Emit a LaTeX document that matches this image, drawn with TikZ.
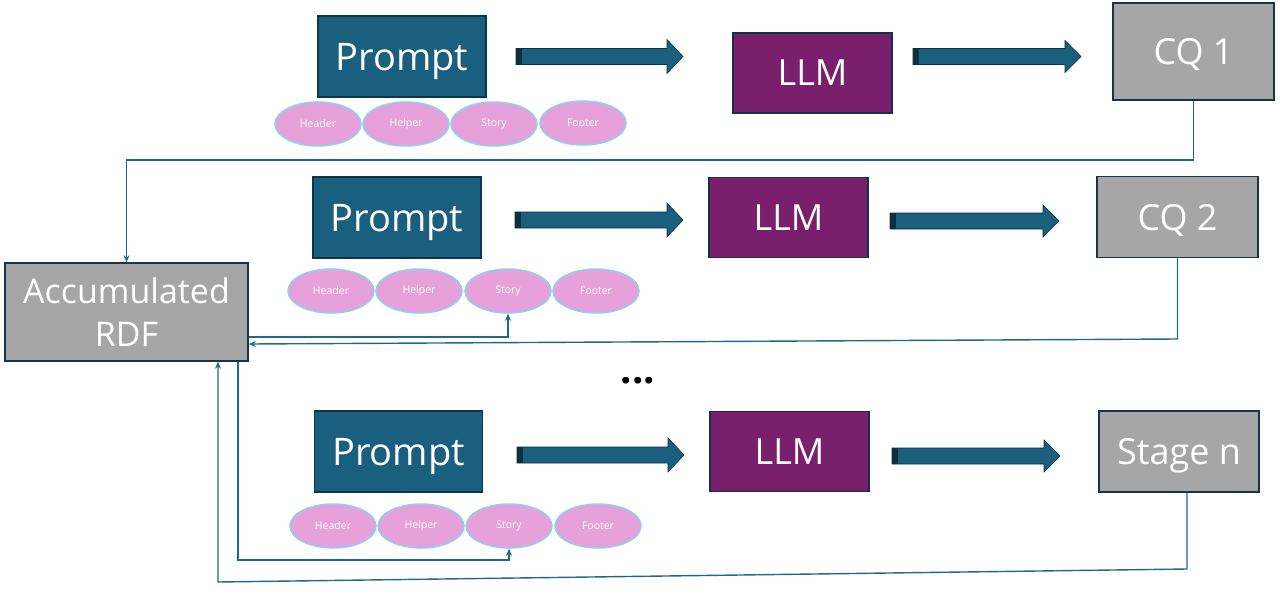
\documentclass[tikz,border=0pt]{standalone}
\usepackage{fontspec}
\setmainfont{Open Sans}
\usetikzlibrary{arrows.meta,shapes.geometric}
\definecolor{pblue}{HTML}{1A5F7E}
\definecolor{pborder}{HTML}{0F3447}
\definecolor{llmpurple}{HTML}{7A1F6B}
\definecolor{cqgray}{HTML}{A6A6A6}
\definecolor{cqborder}{HTML}{1E3342}
\definecolor{pinkfill}{HTML}{E6A0DA}
\definecolor{pinkborder}{HTML}{8ED0EE}
\definecolor{conncol}{HTML}{1F6A8C}
\definecolor{capdark}{HTML}{0E2F40}
\tikzset{
  bigbox/.style={line width=1.5pt, inner sep=0pt, text=white, text depth=0pt},
  promptbox/.style={bigbox, draw=pborder, fill=pblue, minimum width=168pt, minimum height=81pt, font=\fontsize{38}{40}\selectfont},
  llmbox/.style={bigbox, draw=pborder, fill=llmpurple, minimum width=159pt, minimum height=80pt, font=\fontsize{36}{40}\selectfont},
  cqbox/.style={bigbox, draw=cqborder, fill=cqgray, minimum width=161pt, minimum height=81pt, font=\fontsize{36}{40}\selectfont},
  accbox/.style={draw=cqborder, fill=cqgray, line width=1.5pt, inner sep=0pt, text=white, minimum width=243pt, minimum height=98pt, align=center, font=\fontsize{34}{43}\selectfont},
  part/.style={ellipse, draw=pinkborder, fill=pinkfill, line width=1.5pt, minimum width=86pt, minimum height=44pt, inner sep=0pt, text=white, font=\fontsize{10.5}{12}\selectfont},
  conn/.style={draw=conncol, line width=1.4pt},
  connarr/.style={conn, -{Stealth[length=7pt,width=6pt]}},
  blockfill/.style={fill=pblue, draw=capdark, line width=0.6pt},
}
\newcommand{\blockarrow}[5]{%
  % #1 start x, #2 head base x, #3 tip x, #4 center y, #5 head half
  \fill[blockfill] (#1,#4-8) -- (#2,#4-8) -- (#2,#4-#5) -- (#3,#4) -- (#2,#4+#5) -- (#2,#4+8) -- (#1,#4+8) -- cycle;
  \fill[capdark] (#1,#4-8) rectangle (#1+6,#4+8);
}
\begin{document}
\begin{tikzpicture}[x=1pt,y=-1pt]
\useasboundingbox[fill=white] (0,0) rectangle (1280,595);

% Row 1
\node[promptbox] (p1) at (402,56.5) {Prompt};
\node[llmbox] (l1) at (812.5,73) {LLM};
\node[cqbox, minimum height=97pt] (cq1) at (1193.5,51.5) {CQ 1};
\node[part] (h1) at (318,124) {Header};
\node[part] (he1) at (406,124) {Helper};
\node[part] (s1) at (494,124) {Story};
\node[part] (f1) at (583,123) {Footer};
\blockarrow{516}{667}{683}{56.5}{17}
\blockarrow{913}{1065}{1081}{56.5}{16}

% Row 2
\node[promptbox] (p2) at (397,217.5) {Prompt};
\node[llmbox] (l2) at (788.5,217.5) {LLM};
\node[cqbox] (cq2) at (1177.5,217) {CQ 2};
\node[part] (h2) at (331,291) {Header};
\node[part] (he2) at (419,291) {Helper};
\node[part] (s2) at (508,291) {Story};
\node[part] (f2) at (596,291) {Footer};
\blockarrow{515}{667}{683}{220}{17}
\blockarrow{890}{1043}{1059}{221}{16}

% Accumulated RDF
\node[accbox] (acc) at (126.5,312) {Accumulated\\RDF};

% dots
\node[anchor=base, font=\fontsize{40}{40}\selectfont\bfseries, inner sep=0pt] (dots) at (638,383) {...};

% Row 3
\node[promptbox] (p3) at (398.5,451.5) {Prompt};
\node[llmbox] (l3) at (789.5,451.5) {LLM};
\node[cqbox, minimum width=160pt] (sn) at (1179,451.5) {Stage n};
\node[part] (h3) at (333,526) {Header};
\node[part] (he3) at (421,526) {Helper};
\node[part] (s3) at (509,526) {Story};
\node[part] (f3) at (598,526) {Footer};
\blockarrow{517}{668}{684}{455}{17}
\blockarrow{892}{1044}{1060}{456}{16}

% helper coordinates
\coordinate (y160) at (0,160);
\coordinate (y339) at (0,339);
\coordinate (y344) at (0,344);
\coordinate (y337) at (0,337);
\coordinate (x218) at (218,0);
\coordinate (x238) at (238,0);
\coordinate (y560) at (0,560);
\coordinate (snturn) at (1187,569);
\coordinate (accturn) at (218,582);

% connectors
\draw[connarr] (cq1.south) -- (cq1.south |- y160) -| (acc.north);
\draw[connarr] (cq2.south) -- (cq2.south |- y339) -- (acc.east |- y344);
\draw[connarr] (acc.east |- y337) -| (s2.south);
\draw[connarr] (acc.south -| x238) -- (x238 |- y560) -| (s3.south);
\draw[connarr] (sn.south -| snturn) -- (snturn) -- (accturn) -- (acc.south -| x218);
\end{tikzpicture}
\end{document}
